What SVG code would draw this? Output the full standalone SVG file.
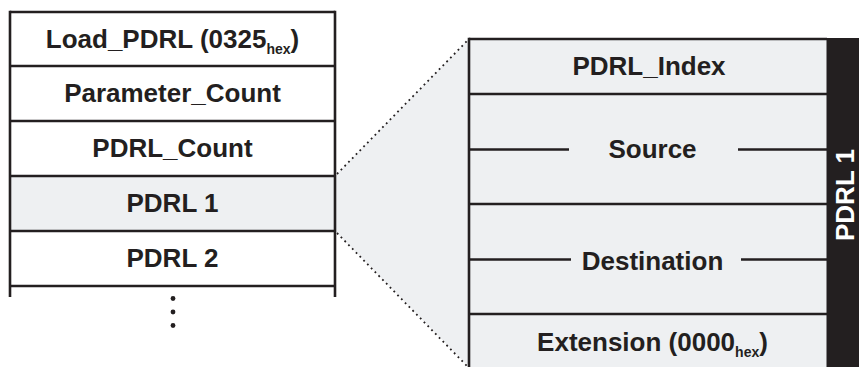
<svg xmlns="http://www.w3.org/2000/svg" width="859" height="367" viewBox="0 0 859 367">
  <style>
    .ln { stroke: #231f20; stroke-width: 2.6; fill: none; }
    .dot { stroke: #231f20; stroke-width: 1.8; stroke-dasharray: 1.8 3.6; fill: none; }
    .t { font-family: "Liberation Sans", Arial, sans-serif; font-weight: bold; font-size: 26px; fill: #231f20; text-anchor: middle; }
    .sub { font-size: 14px; }
    .shade { fill: #eef0f2; }
  </style>
  <rect width="859" height="367" fill="#ffffff"/>

  <!-- zoom wedge between PDRL 1 and its expanded layout -->
  <g id="connectors">
    <polygon class="shade" points="335,176 469,39 469,367 335,231"/>
    <line class="dot" x1="337" y1="174" x2="467" y2="41"/>
    <line class="dot" x1="337" y1="233" x2="467" y2="366"/>
  </g>

  <!-- command frame -->
  <g id="command-frame">
    <rect class="shade" x="10" y="176" width="325" height="55"/>
    <line class="ln" x1="10" y1="12" x2="335" y2="12"/>
    <line class="ln" x1="10" y1="66" x2="335" y2="66"/>
    <line class="ln" x1="10" y1="121" x2="335" y2="121"/>
    <line class="ln" x1="10" y1="176" x2="335" y2="176"/>
    <line class="ln" x1="10" y1="231" x2="335" y2="231"/>
    <line class="ln" x1="10" y1="286" x2="335" y2="286"/>
    <line class="ln" x1="10" y1="10.7" x2="10" y2="297"/>
    <line class="ln" x1="335" y1="10.7" x2="335" y2="297"/>
  </g>
  <g id="load-pdrl">
    <text class="t" x="172.5" y="47.5">Load_PDRL (0325<tspan class="sub" dy="6">hex</tspan><tspan dy="-6">)</tspan></text>
  </g>
  <g id="parameter-count">
    <text class="t" x="172.5" y="102">Parameter_Count</text>
  </g>
  <g id="pdrl-count">
    <text class="t" x="172.5" y="157">PDRL_Count</text>
  </g>
  <g id="pdrl-1">
    <text class="t" x="172.5" y="212">PDRL 1</text>
  </g>
  <g id="pdrl-2">
    <text class="t" x="172.5" y="267">PDRL 2</text>
  </g>
  <g id="more">
    <circle cx="173" cy="298.5" r="2.4" fill="#231f20"/>
    <circle cx="173" cy="312" r="2.4" fill="#231f20"/>
    <circle cx="173" cy="325.5" r="2.4" fill="#231f20"/>
  </g>

  <!-- PDRL 1 layout -->
  <g id="pdrl-layout">
    <rect class="shade" x="469" y="39" width="358" height="330"/>
    <line class="ln" x1="469" y1="39" x2="827" y2="39"/>
    <line class="ln" x1="469" y1="94" x2="827" y2="94"/>
    <line class="ln" x1="469" y1="204" x2="827" y2="204"/>
    <line class="ln" x1="469" y1="314" x2="827" y2="314"/>
    <line class="ln" x1="469" y1="37.7" x2="469" y2="367"/>
    <rect x="826.5" y="38" width="33" height="330" fill="#231f20"/>
    <text class="t" transform="translate(853.5,195) rotate(-90)" style="fill:#ffffff">PDRL 1</text>
  </g>
  <g id="pdrl-index">
    <text class="t" x="649" y="75">PDRL_Index</text>
  </g>
  <g id="source">
    <line class="ln" x1="469" y1="149.5" x2="569" y2="149.5"/>
    <line class="ln" x1="738" y1="149.5" x2="827" y2="149.5"/>
    <text class="t" x="652.5" y="158">Source</text>
  </g>
  <g id="destination">
    <line class="ln" x1="469" y1="259.5" x2="571" y2="259.5"/>
    <line class="ln" x1="741" y1="259.5" x2="827" y2="259.5"/>
    <text class="t" x="652.5" y="269.5">Destination</text>
  </g>
  <g id="extension">
    <text class="t" x="652.5" y="351">Extension (0000<tspan class="sub" dy="6">hex</tspan><tspan dy="-6">)</tspan></text>
  </g>
</svg>
